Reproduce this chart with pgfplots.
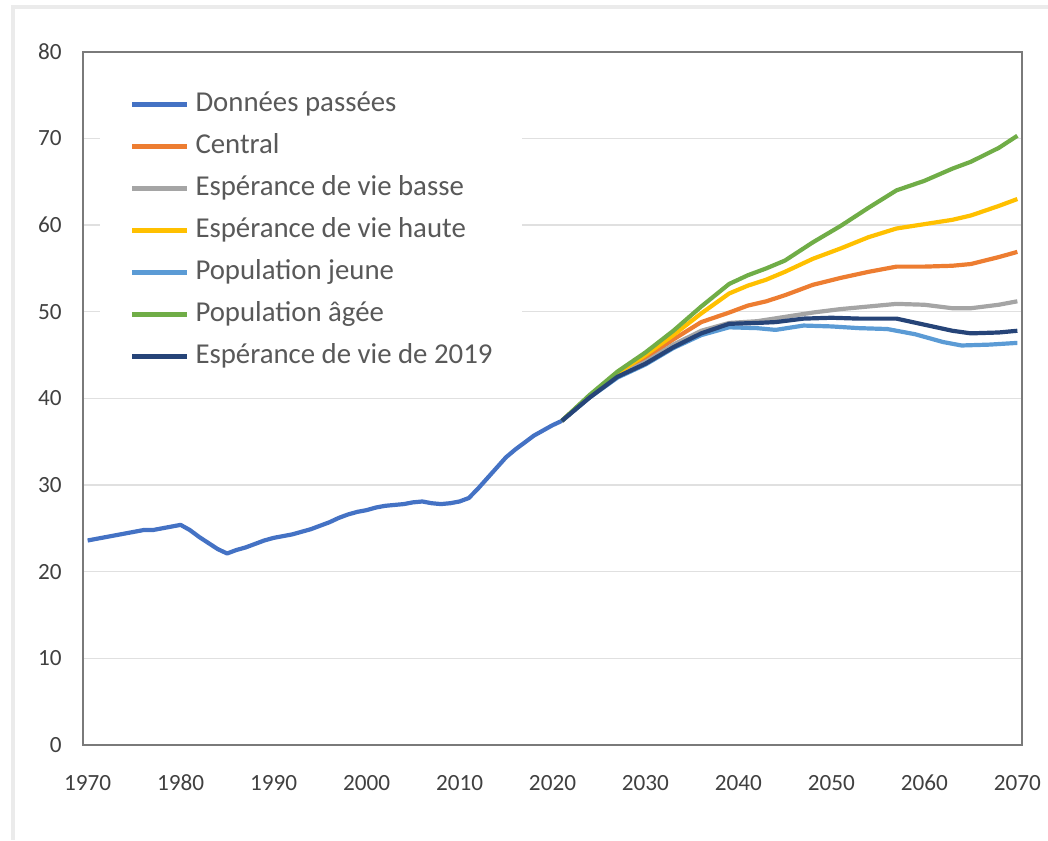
\documentclass[border=0pt]{standalone}
\usepackage{fontspec}
\setmainfont{Carlito}
\usepackage{pgfplots}
\pgfplotsset{compat=1.18}

\definecolor{cpast}{HTML}{4472C4}
\definecolor{ccentral}{HTML}{ED7D31}
\definecolor{cbasse}{HTML}{A5A5A5}
\definecolor{chaute}{HTML}{FFC000}
\definecolor{cjeune}{HTML}{5B9BD5}
\definecolor{cagee}{HTML}{70AD47}
\definecolor{cvie}{HTML}{264478}
\definecolor{txt}{HTML}{595959}
\definecolor{ticktxt}{HTML}{404040}
\definecolor{framec}{HTML}{7A7A7A}
\definecolor{gridc}{HTML}{E0E0E0}

\begin{document}
\begin{tikzpicture}
  \begin{axis}[
      at={(0pt,0pt)}, anchor=south west,
      scale only axis,
      width=469.5pt, height=346.65pt,
      xmin=1969.5, xmax=2070.5,
      ymin=0, ymax=80,
      xtick={1970,1980,...,2070},
      ytick={0,10,...,80},
      xticklabel style={/pgf/number format/1000 sep={}, inner sep=0pt,
        anchor=north, text height=7.5pt, text depth=0pt, yshift=-15pt},
      yticklabel style={inner sep=0pt, xshift=-10.5pt},
      /pgf/number format/assume math mode=true,
      tick label style={font=\fontsize{11.6}{13}\selectfont, text=ticktxt},
      major tick length=0pt,
      ymajorgrids, xmajorgrids=false,
      grid style={draw=gridc, line width=0.6pt},
      axis line style={framec, line width=1.1pt},
      every axis plot/.append style={line width=2.1pt, line join=round, mark=none},
      legend cell align=left,
      legend image code/.code={\draw[#1] (0pt,0pt) -- (27.5pt,0pt);},
      legend style={
        at={(0.018,0.975)}, anchor=north west,
        draw=none, fill=white,
        inner xsep=15pt, inner ysep=11pt,
        font=\fontsize{14.4}{16}\selectfont, text=txt,
        nodes={inner sep=0pt, text height=10pt, text depth=3pt},
        row sep=8pt,
        /tikz/every odd column/.append style={column sep=3pt},
      },
    ]

    % Donnees passees
    \addplot[cpast] coordinates {
      (1970,23.6) (1971,23.8) (1972,24.0) (1973,24.2) (1974,24.4) (1975,24.6)
      (1976,24.8) (1977,24.8) (1978,25.0) (1979,25.2) (1980,25.4) (1981,24.8)
      (1982,24.0) (1983,23.3) (1984,22.6) (1985,22.1) (1986,22.5) (1987,22.8)
      (1988,23.2) (1989,23.6) (1990,23.9) (1991,24.1) (1992,24.3) (1993,24.6)
      (1994,24.9) (1995,25.3) (1996,25.7) (1997,26.2) (1998,26.6) (1999,26.9)
      (2000,27.1) (2001,27.4) (2002,27.6) (2003,27.7) (2004,27.8) (2005,28.0)
      (2006,28.1) (2007,27.9) (2008,27.8) (2009,27.9) (2010,28.1) (2011,28.5)
      (2012,29.6) (2013,30.8) (2014,32.0) (2015,33.2) (2016,34.1) (2017,34.9)
      (2018,35.7) (2019,36.3) (2020,36.9) (2021,37.4)
    };
    \addlegendentry{Données passées}

    % Central
    \addplot[ccentral] coordinates {
      (2021,37.4) (2024,40.2) (2027,42.8) (2030,44.6) (2033,46.8) (2036,48.8)
      (2039,49.9) (2041,50.7) (2043,51.2) (2045,51.9) (2048,53.1) (2051,53.9)
      (2054,54.6) (2057,55.2) (2060,55.2) (2063,55.3) (2065,55.5) (2068,56.3)
      (2070,56.9)
    };
    \addlegendentry{Central}

    % Esperance de vie basse
    \addplot[cbasse] coordinates {
      (2021,37.4) (2024,40.2) (2027,42.6) (2030,44.2) (2033,46.2) (2036,47.8)
      (2039,48.7) (2042,48.9) (2045,49.4) (2048,49.9) (2051,50.3) (2054,50.6)
      (2057,50.9) (2060,50.8) (2063,50.4) (2065,50.4) (2068,50.8) (2070,51.2)
    };
    \addlegendentry{Espérance de vie basse}

    % Esperance de vie haute
    \addplot[chaute] coordinates {
      (2021,37.4) (2024,40.3) (2027,42.9) (2030,45.0) (2033,47.3) (2036,49.8)
      (2039,52.1) (2041,53.0) (2043,53.7) (2045,54.6) (2048,56.1) (2051,57.3)
      (2054,58.6) (2057,59.6) (2060,60.1) (2063,60.6) (2065,61.1) (2068,62.2)
      (2070,63.0)
    };
    \addlegendentry{Espérance de vie haute}

    % Population jeune
    \addplot[cjeune] coordinates {
      (2021,37.4) (2024,40.1) (2027,42.4) (2030,43.9) (2033,45.8) (2036,47.3)
      (2039,48.2) (2042,48.1) (2044,47.9) (2047,48.4) (2050,48.3) (2053,48.1)
      (2056,48.0) (2059,47.4) (2062,46.5) (2064,46.1) (2067,46.2) (2070,46.4)
    };
    \addlegendentry{Population jeune}

    % Population agee
    \addplot[cagee] coordinates {
      (2021,37.4) (2024,40.4) (2027,43.1) (2030,45.3) (2033,47.8) (2036,50.6)
      (2039,53.2) (2041,54.2) (2043,55.0) (2045,55.9) (2048,58.0) (2051,59.9)
      (2054,62.0) (2057,64.0) (2060,65.1) (2063,66.5) (2065,67.3) (2068,68.9)
      (2070,70.3)
    };
    \addlegendentry{Population âgée}

    % Esperance de vie de 2019
    \addplot[cvie] coordinates {
      (2021,37.4) (2024,40.1) (2027,42.5) (2030,44.0) (2033,45.9) (2036,47.5)
      (2039,48.6) (2042,48.7) (2044,48.8) (2047,49.2) (2050,49.3) (2053,49.2)
      (2057,49.2) (2060,48.5) (2063,47.8) (2065,47.5) (2068,47.6) (2070,47.8)
    };
    \addlegendentry{Espérance de vie de 2019}

  \end{axis}
  % faint outer border of the original frame
  \draw[black!8, line width=2pt] (-35pt,-47.5pt) -- (-35pt,369pt) -- (482.5pt,369pt);
  \pgfresetboundingbox
  \useasboundingbox (-41.5pt,-47.5pt) rectangle (482.5pt,372.5pt);
\end{tikzpicture}
\end{document}
